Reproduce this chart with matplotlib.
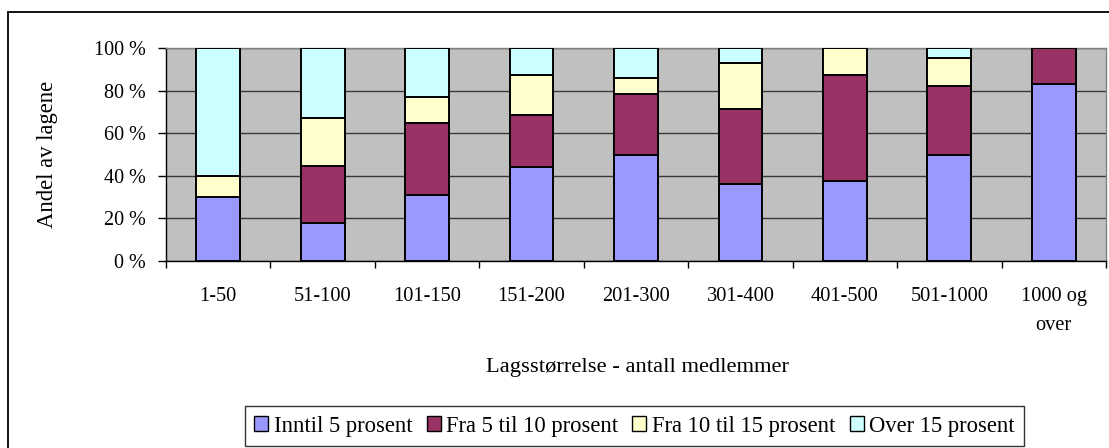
import matplotlib
matplotlib.use("Agg")
import matplotlib.pyplot as plt
from matplotlib.patches import Rectangle, Patch
import numpy as np

categories = ["1-50", "51-100", "101-150", "151-200", "201-300",
              "301-400", "401-500", "501-1000", "1000 og\nover"]
series_names = ["Inntil 5 prosent", "Fra 5 til 10 prosent",
                "Fra 10 til 15 prosent", "Over 15 prosent"]
inntil5 = [30, 18, 31, 44, 50, 36, 37.5, 50, 83.3]
fra5til10 = [0, 26.5, 34, 24.5, 28.5, 35.5, 50, 32, 16.7]
fra10til15 = [10, 22.5, 12, 19, 7.5, 21.5, 12.5, 13.5, 0]
over15 = [60, 33, 23, 12.5, 14, 7, 0, 4.5, 0]
y_ticks = [0, 20, 40, 60, 80, 100]
y_labels = ["0 %", "20 %", "40 %", "60 %", "80 %", "100 %"]

colors = ["#9999FF", "#993366", "#FFFFCC", "#CCFFFF"]

FONT = "Liberation Serif"
plt.rcParams["font.family"] = [FONT, "DejaVu Serif"]

W, H = 1109, 448
fig = plt.figure(figsize=(W / 100, H / 100), dpi=100)

# outer chart border
fig.patches.append(Rectangle((8 / W, 0 - 0.05), 1.2, 1 - 12 / H + 0.05,
                             transform=fig.transFigure, fill=False,
                             edgecolor="black", linewidth=1.3, zorder=0))

left, right, top, bottom = 166, 1106, 48, 261
ax = fig.add_axes([left / W, 1 - bottom / H, (right - left) / W, (bottom - top) / H])
ax.set_facecolor("#C0C0C0")

x = np.arange(len(categories))
data = [inntil5, fra5til10, fra10til15, over15]
base = np.zeros(len(categories))
for vals, c, name in zip(data, colors, series_names):
    vals = np.array(vals, dtype=float)
    ax.bar(x, vals, bottom=base, width=0.42, color=c, edgecolor="black",
           linewidth=1.4, label=name, zorder=3)
    base += vals

ax.set_xlim(-0.5, len(categories) - 0.5)
ax.set_ylim(0, 100)
ax.set_yticks(y_ticks)
ax.set_yticklabels(y_labels, fontsize=14.5)
ax.yaxis.grid(True, color="#3a3a3a", linewidth=1.0, zorder=1)
ax.set_axisbelow(True)

ax.set_xticks(x)
ax.set_xticklabels(categories, fontsize=14.7, linespacing=1.7, va="top")
ax.tick_params(axis="x", which="major", length=0, pad=19)
ax.set_xticks(np.arange(-0.5, len(categories), 1.0), minor=True)
ax.tick_params(axis="x", which="minor", length=5, width=1.0, color="black", direction="out")
ax.tick_params(axis="y", which="major", length=5.5, width=1.0, direction="out", pad=9)

for s in ["top", "right"]:
    ax.spines[s].set_color("#808080")
    ax.spines[s].set_linewidth(1.0)
for s in ["left", "bottom"]:
    ax.spines[s].set_color("black")
    ax.spines[s].set_linewidth(1.0)

fig.text(47 / W, 1 - 154 / H, "Andel av lagene", rotation=90,
         ha="center", va="center", fontsize=16.3)

fig.text(637.5 / W, 1 - 367 / H,
         "Lagsstørrelse - antall medlemmer", ha="center", va="center", fontsize=16.2)

handles = [Patch(facecolor=c, edgecolor="black", linewidth=1.0) for c in colors]
leg = fig.legend(handles, series_names, loc="center",
                 bbox_to_anchor=(634.5 / W, 1 - 426 / H), ncol=4,
                 fontsize=16.3, frameon=True, fancybox=False, shadow=False,
                 handlelength=0.62, handleheight=0.62, handletextpad=0.25,
                 columnspacing=0.62, borderpad=0.42, borderaxespad=0)
leg.get_frame().set_edgecolor("black")
leg.get_frame().set_linewidth(1.0)

fig.savefig("out.png", dpi=100)
